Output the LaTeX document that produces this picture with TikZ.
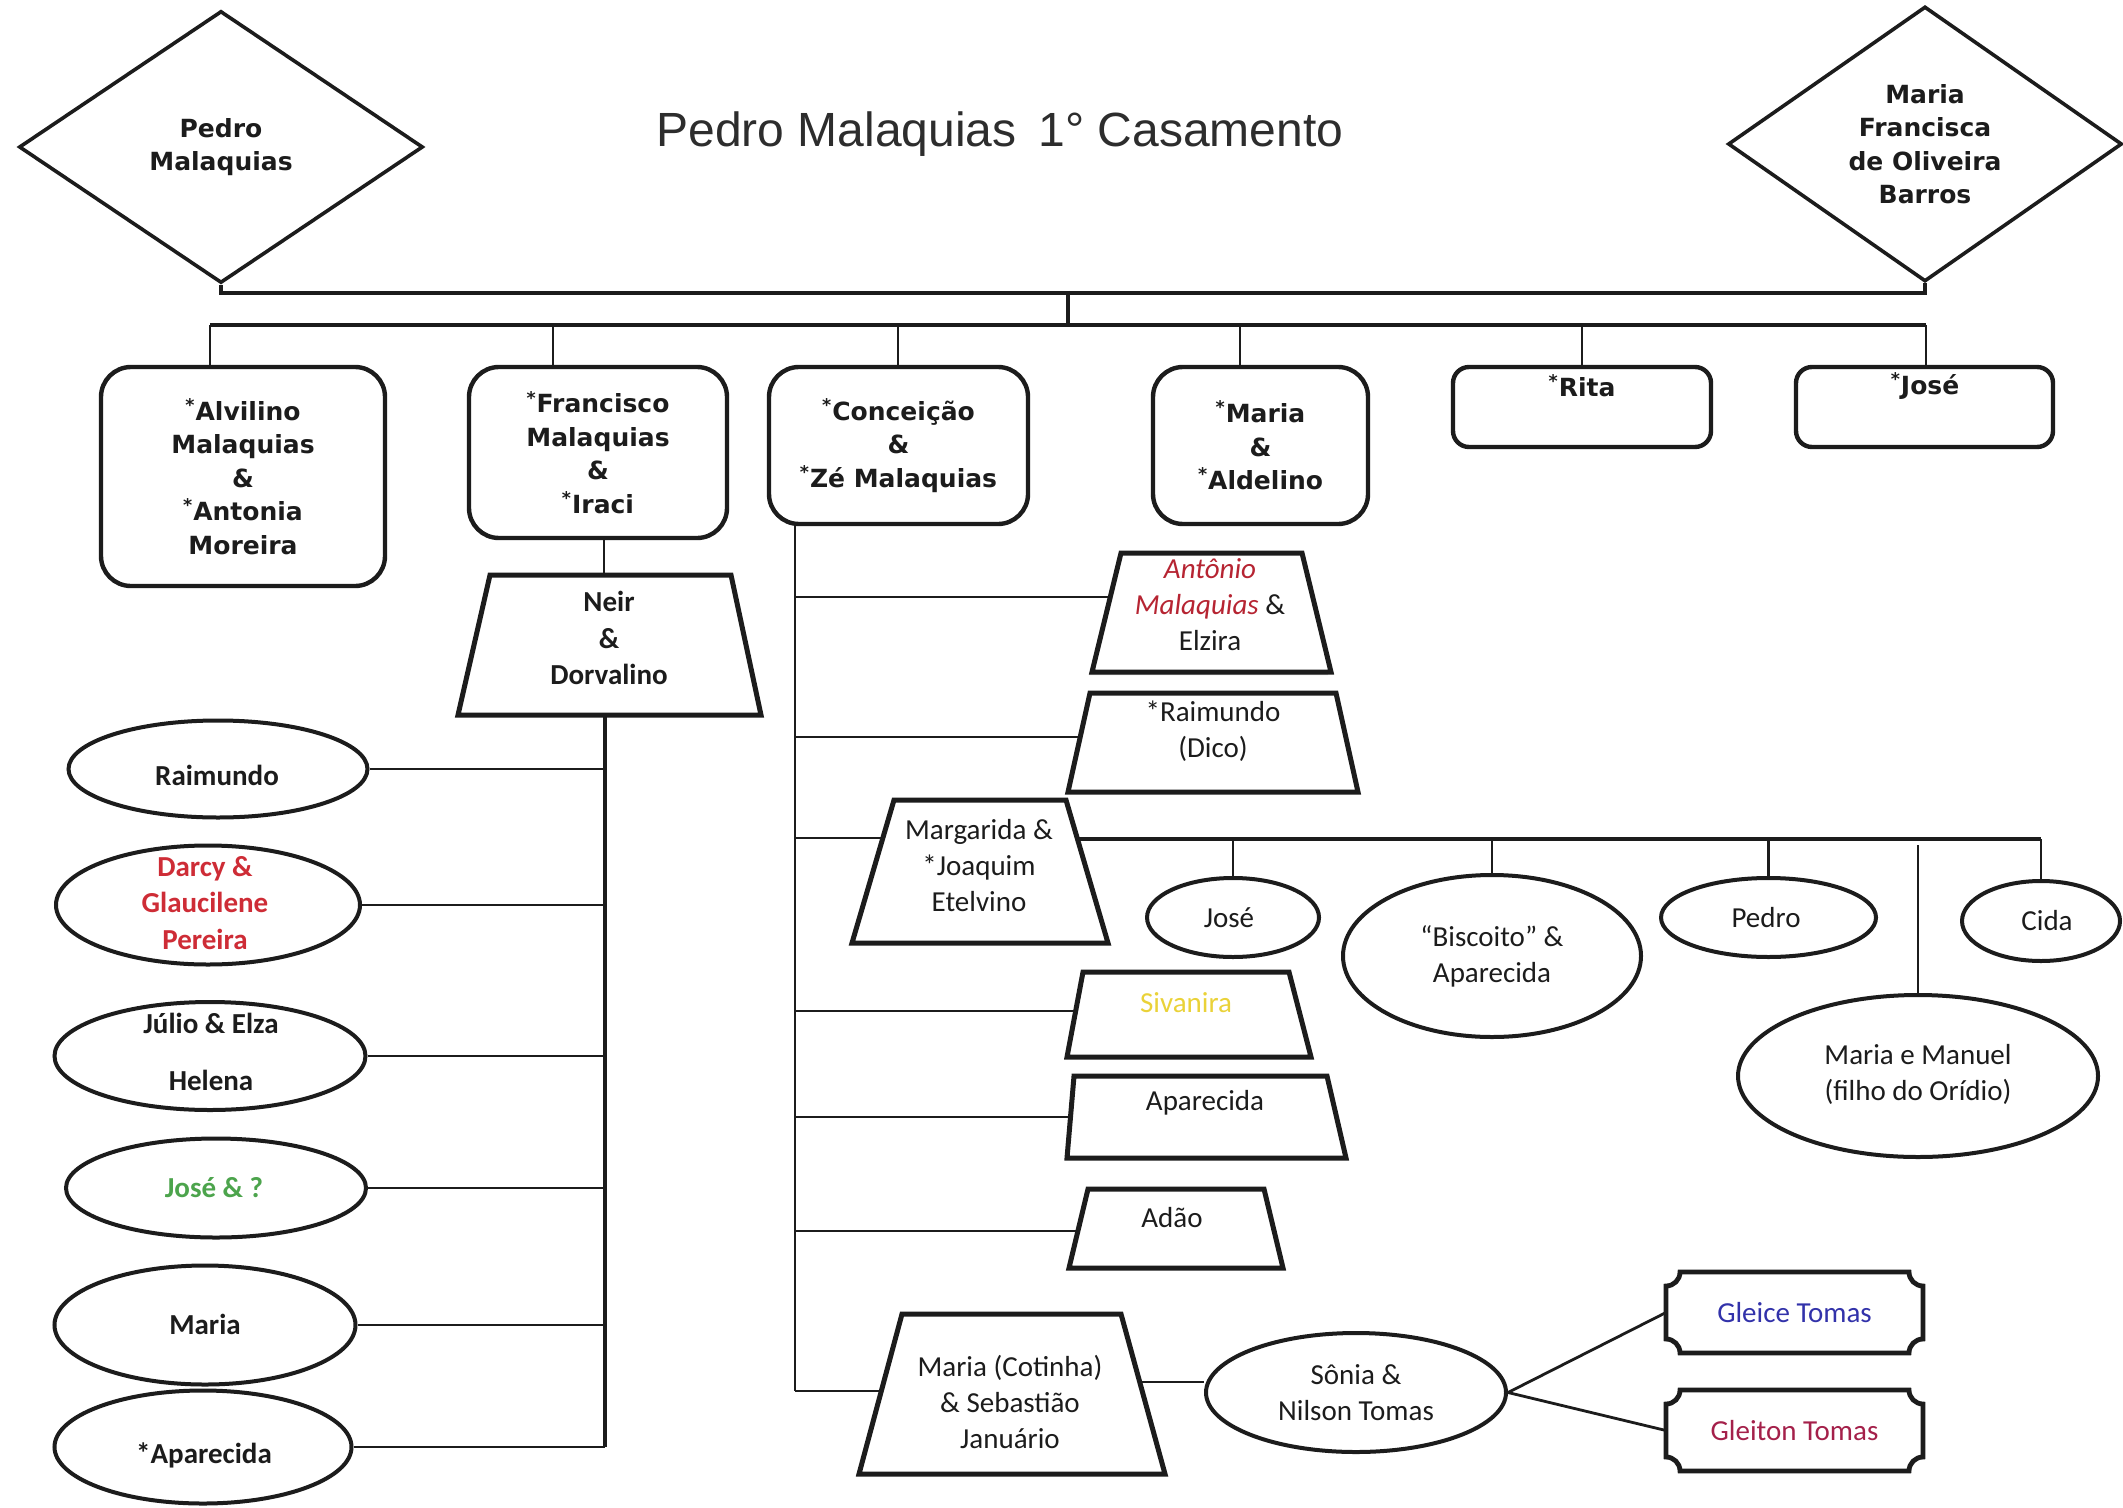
\documentclass[tikz,border=0pt]{standalone}
\usepackage{fontspec}
\setmainfont{Liberation Sans}
\newfontfamily\boxfont{DejaVu Sans}
\newfontfamily\calfont{Carlito}
\usetikzlibrary{shapes.geometric,shadows}
\definecolor{ink}{RGB}{28,28,28}
\definecolor{titleink}{RGB}{45,45,45}
\definecolor{redD}{RGB}{206,44,54}
\definecolor{greenJ}{RGB}{76,164,76}
\definecolor{redA}{RGB}{182,36,50}
\definecolor{yelS}{RGB}{234,210,56}
\definecolor{blueG}{RGB}{50,50,170}
\definecolor{redG}{RGB}{164,32,74}
\newcommand{\topf}{\boxfont\bfseries\fontsize{12.5}{16.75}\selectfont}
\newcommand{\calb}{\calfont\bfseries\fontsize{14.5}{18.25}\selectfont}
\newcommand{\calr}{\calfont\fontsize{14.5}{18}\selectfont}
\newcommand{\myast}{\textsuperscript{*}}
\newcommand{\drawplaque}[1]{%
 \draw[plq] ([yshift=-7pt]#1.north west) arc[start angle=-90,end angle=0,radius=7pt]
   -- ([xshift=-7pt]#1.north east) arc[start angle=180,end angle=270,radius=7pt]
   -- ([yshift=7pt]#1.south east) arc[start angle=90,end angle=180,radius=7pt]
   -- ([xshift=7pt]#1.south west) arc[start angle=0,end angle=90,radius=7pt] -- cycle;}
\begin{document}
\begin{tikzpicture}[x=0.5pt,y=-0.5pt,
  topbox/.style={draw=ink,line width=2.2pt,rounded corners=15pt,inner sep=0pt,align=center,font=\topf,text=ink},
  smallbox/.style={topbox,rounded corners=8pt},
  dia/.style={draw=ink,line width=1.8pt,shape=diamond,aspect=1.5,inner sep=0pt,align=center,font=\topf,text=ink},
  ell/.style={draw=ink,line width=2pt,shape=ellipse,inner sep=0pt},
  trap/.style={draw=ink,line width=2.5pt,fill=white,line join=miter},
  plq/.style={draw=ink,line width=2.4pt},
  ghost/.style={inner sep=0pt,outer sep=0pt,draw=none},
  lt/.style={align=center,inner sep=0pt,font=\calb,text=ink},
  rt/.style={align=center,inner sep=0pt,font=\calr,text=ink},
  tt/.style={align=center,inner sep=0pt,font=\topf,text=ink},
  bar/.style={draw=ink,line width=1.9pt},
  conn/.style={draw=ink,line width=1.4pt},
]
\fill[white] (0,0) rectangle (2123,1508);
\useasboundingbox (0,0) rectangle (2123,1508);

% title
\node[anchor=base west,inner sep=0pt,font=\fontsize{24}{28}\selectfont,text=titleink] (title) at (656,147) {Pedro Malaquias\hspace{11pt}1° Casamento};

% parents
\node[dia,minimum width=202pt,minimum height=136pt] (dL) at (221,147) {Pedro\\Malaquias};
\node[dia,minimum width=197pt,minimum height=137.5pt] (dR) at (1925,144) {Maria\\Francisca\\de Oliveira\\Barros};

% children boxes
\node[topbox,minimum width=142pt,minimum height=109.5pt] (cA) at (243,476.5) {\myast Alvilino\\Malaquias\\\&\\\myast Antonia\\Moreira};
\node[topbox,minimum width=129pt,minimum height=85.5pt] (cF) at (598,452.5) {\myast Francisco\\Malaquias\\\&\\\myast Iraci};
\node[topbox,minimum width=129.5pt,minimum height=78.5pt] (cC) at (898.5,445.5) {\myast Conceição\\\&\\\myast Zé Malaquias};
\node[topbox,minimum width=107.5pt,minimum height=78.5pt] (cM) at (1260.5,445.5) {\myast Maria\\\&\\\myast Aldelino};
\node[smallbox,minimum width=129pt,minimum height=40pt] (cR) at (1582,407) {};
\node[tt] (cR-t) at (1582,386) {\myast Rita};
\node[smallbox,minimum width=128.5pt,minimum height=40pt] (cJ) at (1924.5,407) {};
\node[tt] (cJ-t) at (1925,386) {\myast José};

% marriage line and children bar
\draw[bar] (dL.south) -- ++(0,8) -| (dR.south);
\coordinate (mc) at (1068,291);
\coordinate (kc) at (1068,325);
\draw[bar] (mc) -- (kc);
\coordinate (kA) at (210,325);
\coordinate (kF) at (553,325);
\coordinate (kC) at (898,325);
\coordinate (kM) at (1240,325);
\coordinate (kR) at (1582,325);
\coordinate (kJ) at (1926,325);
\draw[bar] (kA) -- (kJ);
\foreach \k/\b in {kA/cA,kF/cF,kC/cC,kM/cM,kR/cR,kJ/cJ} \draw[conn] (\k) -- (\k |- \b.north);

% Neir & Dorvalino
\coordinate (fdrop) at (604,538);
\coordinate (tN-top) at (604,575);
\draw[conn] (fdrop) -- (tN-top);
\draw[trap] (490,575) -- (731,575) -- (761,715) -- (458,715) -- cycle;
\node[lt] (tN) at (609,638) {Neir\\\&\\Dorvalino};
\coordinate (tN-bot) at (605,715);

% left ellipses
\node[ell,minimum width=149.5pt,minimum height=48.5pt] (eR) at (218,769) {};
\node[lt] (eR-t) at (217,775) {Raimundo};
\node[ell,minimum width=152pt,minimum height=59.5pt] (eD) at (208,905) {};
\node[lt,text=redD] (eD-t) at (205,903) {Darcy \&\\Glaucilene\\Pereira};
\node[ell,minimum width=155.5pt,minimum height=54pt] (eJ) at (210,1056) {};
\node[lt] (eJ-t) at (211,1052) {Júlio \& Elza\\[10pt]Helena};
\node[ell,minimum width=150pt,minimum height=49.5pt] (eJo) at (216,1188) {};
\node[lt,text=greenJ] (eJo-t) at (214,1188) {José \& ?};
\node[ell,minimum width=150.5pt,minimum height=59.5pt] (eMa) at (205,1325) {};
\node[lt] (eMa-t) at (205,1324) {Maria};
\node[ell,minimum width=148.5pt,minimum height=56.5pt] (eAp) at (203,1447) {};
\node[lt] (eAp-t) at (204,1455) {*Aparecida};
\draw[bar] (tN-bot) -- (tN-bot |- eAp.east);
\foreach \e in {eR,eD,eJ,eJo,eMa,eAp} \draw[conn] (\e.east) -- (\e.east -| tN-bot);

% Conceicao branch
\coordinate (cs-top) at (795,524);
\coordinate (cs-bot) at (795,1391);
\draw[conn] (cs-top) -- (cs-bot);

\draw[trap,drop shadow={shadow xshift=-1.5pt,shadow yshift=-1.5pt,opacity=0.35}] (1121,553) -- (1302,553) -- (1331,672) -- (1092,672) -- cycle;
\node[rt] (tA) at (1210,605) {{\itshape\color{redA}Antônio}\\{\itshape\color{redA}Malaquias} \&\\Elzira};
\coordinate (tA-in) at (1110,597);

\draw[trap] (1090,693) -- (1336,693) -- (1358,792) -- (1068,792) -- cycle;
\node[rt] (tD) at (1213,731) {*Raimundo\\(Dico)};
\coordinate (tD-in) at (1080,737);

\draw[trap] (894,800) -- (1066,800) -- (1108,943) -- (852,943) -- cycle;
\node[rt] (tMg) at (979,866) {Margarida \&\\*Joaquim\\Etelvino};
\coordinate (tMg-in) at (883,838);
\coordinate (tMg-out) at (1077,839);

\draw[trap] (1083,972) -- (1289,972) -- (1311,1057) -- (1067,1057) -- cycle;
\node[rt,text=yelS] (tS) at (1186,1003) {Sivanira};
\coordinate (tS-in) at (1076,1011);

\draw[trap] (1074,1076) -- (1327,1076) -- (1346,1158) -- (1067,1158) -- cycle;
\node[rt] (tAp) at (1205,1103) {Aparecida};
\coordinate (tAp-in) at (1070,1117);

\draw[trap] (1088,1189) -- (1264,1189) -- (1283,1268) -- (1069,1268) -- cycle;
\node[rt] (tAd) at (1172,1218) {Adão};
\coordinate (tAd-in) at (1078,1231);

\draw[trap] (902,1314) -- (1121,1314) -- (1165,1474) -- (859,1474) -- cycle;
\node[rt] (tMc) at (1010,1402) {Maria (Cotinha)\\\& Sebastião\\Januário};
\coordinate (tMc-in) at (881,1391);
\coordinate (tMc-out) at (1140,1382);

\foreach \t in {tA,tD,tMg,tS,tAp,tAd,tMc} \draw[conn] (cs-top |- \t-in) -- (\t-in);

% Margarida's children
\node[ell,minimum width=86pt,minimum height=39.5pt] (eJ2) at (1233,917.5) {};
\node[rt] (eJ2-t) at (1229,918) {José};
\node[ell,minimum width=149pt,minimum height=81pt] (eB) at (1492,956) {};
\node[rt] (eB-t) at (1492,956) {“Biscoito” \&\\Aparecida};
\node[ell,minimum width=107.5pt,minimum height=39.5pt] (eP) at (1768.5,917.5) {};
\node[rt] (eP-t) at (1766,918) {Pedro};
\node[ell,minimum width=79pt,minimum height=40pt] (eC) at (2041,921) {};
\node[rt] (eC-t) at (2047,921) {Cida};
\node[ell,minimum width=180pt,minimum height=81pt] (eMM) at (1918,1076) {};
\node[rt] (eMM-t) at (1918,1074) {Maria e Manuel\\(filho do Orídio)};
\draw[bar] (tMg-out) -- (tMg-out -| eC.north);
\foreach \e in {eJ2,eB,eP,eC} \draw[conn] (\e.north |- tMg-out) -- (\e.north);
\coordinate (mm-top) at (1918,845);
\draw[conn] (mm-top) -- (eMM.north);

% Sonia & grandchildren
\node[ell,minimum width=150pt,minimum height=59.5pt] (eS) at (1356,1392.5) {};
\node[rt] (eS-t) at (1356,1392.5) {Sônia \&\\Nilson Tomas};
\draw[conn] (tMc-out) -- (tMc-out -| eS.west);

\node[ghost,rt,minimum width=128.5pt,minimum height=40.5pt,text=blueG] (pG) at (1794.5,1312.5) {Gleice Tomas};
\drawplaque{pG}
\node[ghost,rt,minimum width=128.5pt,minimum height=40.5pt,text=redG] (pGt) at (1794.5,1430.5) {Gleiton Tomas};
\drawplaque{pGt}
\draw[conn] (eS.east) -- (pG.west);
\draw[conn] (eS.east) -- (pGt.west);
\end{tikzpicture}
\end{document}
